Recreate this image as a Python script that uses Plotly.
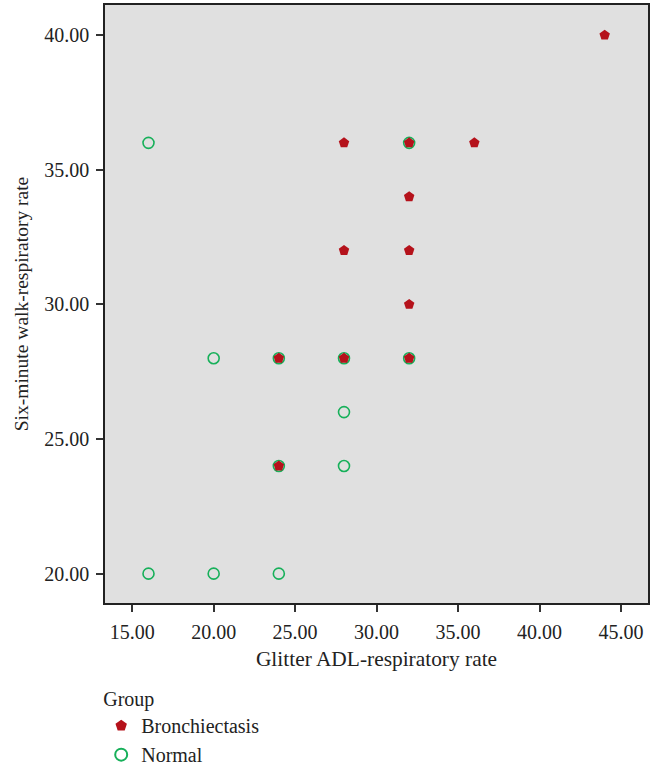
import plotly.graph_objects as go

bron_x = [44, 28, 32, 36, 32, 28, 32, 32, 24, 28, 32, 24]
bron_y = [40, 36, 36, 36, 34, 32, 32, 30, 28, 28, 28, 24]
norm_x = [16, 32, 20, 24, 28, 32, 28, 24, 28, 16, 20, 24]
norm_y = [36, 36, 28, 28, 28, 28, 26, 24, 24, 20, 20, 20]
x_ticks = [15, 20, 25, 30, 35, 40, 45]
y_ticks = [20, 25, 30, 35, 40]

RED = "#b5121b"
GREEN = "#17b05a"
FONT = "Liberation Serif"

fig = go.Figure()
fig.add_trace(go.Scatter(
    x=norm_x, y=norm_y, mode="markers", name="Normal",
    marker=dict(symbol="circle-open", size=11, color=GREEN, line=dict(width=1.6, color=GREEN)),
))
fig.add_trace(go.Scatter(
    x=bron_x, y=bron_y, mode="markers", name="Bronchiectasis",
    marker=dict(symbol="pentagon", size=11, color=RED, line=dict(width=0)),
))

axis_common = dict(
    showgrid=False, zeroline=False, showline=True, linecolor="#222222", linewidth=1.5,
    mirror=True, ticks="outside", ticklen=7, tickwidth=1.5, tickcolor="#333333",
    tickformat=".2f", tickangle=0, automargin=False,
    tickfont=dict(family=FONT, size=20, color="#222222"),
)

fig.update_layout(
    width=659, height=769,
    margin=dict(l=105, r=11, t=5, b=166, autoexpand=False),
    paper_bgcolor="white", plot_bgcolor="#e0e0e0",
    font=dict(family=FONT, size=20, color="#222222"),
    xaxis=dict(range=[13.33, 46.66], tickvals=x_ticks, ticklabelstandoff=3,
               title=dict(text="Glitter ADL-respiratory rate", font=dict(family=FONT, size=21.4), standoff=9),
               **axis_common),
    yaxis=dict(range=[18.91, 41.12], tickvals=y_ticks, ticklabelstandoff=3,
               title=dict(text="Six-minute walk-respiratory rate", font=dict(family=FONT, size=19.5), standoff=10),
               **axis_common),
    legend=dict(
        title=dict(text="Group", font=dict(family=FONT, size=20)),
        x=-0.007, xanchor="left", y=-0.129, yanchor="top",
        traceorder="reversed", font=dict(family=FONT, size=20),
        bgcolor="rgba(0,0,0,0)", itemsizing="constant",
    ),
    showlegend=True,
)

fig.write_html("out.html", config={"displayModeBar": False},
               post_script="document.body.style.margin='0px';")
